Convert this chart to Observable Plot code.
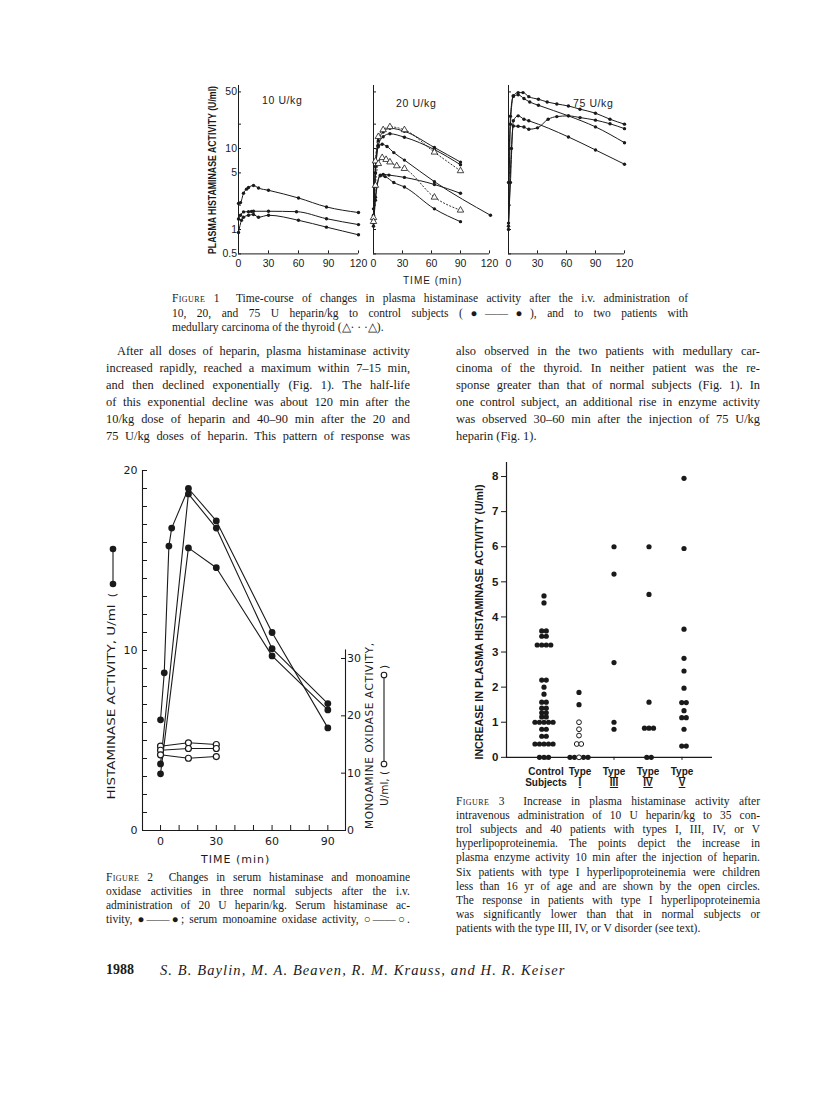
<!DOCTYPE html>
<html><head><meta charset="utf-8">
<script src="https://cdn.jsdelivr.net/npm/d3@7"></script>
<script src="https://cdn.jsdelivr.net/npm/@observablehq/plot@0.6"></script>
<style>
html,body{margin:0;padding:0;background:#fff;}
#page{position:relative;width:816px;height:1099px;overflow:hidden;background:#fff;color:#1a1a1a;font-family:"Liberation Serif","Times New Roman",serif;}
.ln{position:absolute;white-space:nowrap;}
.j{text-align:justify;text-align-last:justify;}
.sc{font-variant:small-caps;letter-spacing:0.4px;}
</style></head><body><div id="page"></div>
<script>
// ---------------- Figure 1 data: [time (min), plasma histaminase (U/ml)] ----------------
// 10 U/kg, control subjects
const ctl10a = [[0,2.1],[2,2.15],[5,2.8],[8,3.15],[10,3.3],[15,3.5],[20,3.25],[30,3.05],[60,2.45],[88,1.9],[120,1.62]];
const ctl10b = [[0,1.35],[2,1.5],[5,1.65],[10,1.66],[13,1.67],[15,1.68],[30,1.68],[58,1.66],[88,1.36],[120,1.15]];
const ctl10c = [[0,0.92],[3,1.3],[5,1.42],[10,1.5],[15,1.53],[20,1.42],[30,1.5],[60,1.3],[88,1.07],[120,0.86]];
// 20 U/kg, control subjects
const ctl20a = [[0,1.8],[2,6],[5,12.5],[10,16],[17,17.8],[32,16.3],[63,10.3],[90,6.8]];
const ctl20b = [[0,1.5],[2,5],[5,11],[10,14],[17,15.2],[32,13.8],[63,9.7],[90,6.3]];
const ctl20c = [[0,1.3],[2,5],[5,10.5],[9,11.3],[14,10.6],[21,8.9],[32,7.2],[63,3.9],[121,1.5]];
const ctl20d = [[0,1.2],[2,2.5],[7,4.7],[10,4.8],[16,4.7],[32,4.4],[63,3.6],[90,2.8]];
const ctl20e = [[0,1.1],[2,2.3],[7,4.6],[12,4.5],[21,3.8],[32,3.35],[63,1.8],[90,1.25]];
// 20 U/kg, medullary carcinoma patients
const pat20a = [[0,1.4],[2,7],[5,14],[10,17],[17,18.5],[32,17],[63,9],[90,5.3]];
const pat20b = [[0,1.25],[2,3.5],[5,6.5],[9,7.7],[13,7.3],[17,6.8],[24,6.1],[32,5.65],[63,2.5],[90,1.73]];
// 75 U/kg, control subjects
const ctl75a = [[0,3.8],[2,25],[5,45],[10,49],[15,49],[21,43.7],[31,40.6],[40,37.6],[50,35.5],[62,33.5],[74,30.6],[90,27.3],[105,23],[120,20]];
const ctl75b = [[0,1.1],[2,20],[5,44],[10,46],[16,41.4],[22,37.5],[31,34.2],[62,25.3],[90,18.5],[120,11.8]];
const ctl75c = [[0,1.0],[3,10],[5,19],[10,18.8],[16,18.4],[21,17.3],[30,18],[41,23],[50,24.8],[62,25.3],[74,24.1],[90,22.4],[105,20.2],[120,17.6]];
const ctl75d = [[0,1.2],[2,3.8],[5,22],[10,25.3],[16,23],[21,22],[62,13.9],[90,9.6],[120,6.4]];
const fig1YTicks = [0.5,1,2,5,10,20,50];
const fig1YLabels = [0.5,1,5,10,50];
const fig1XTicks = [0,30,60,90,120];

// ---------------- Figure 2 data ----------------
// serum histaminase (U/ml), [time, value]
const histA = [[0,6.15],[2,8.76],[4.5,15.8],[6,16.8],[15,19.0],[30,17.2],[60,11.0],[90,5.7]];
const histB = [[0,3.7],[15,18.7],[30,16.8],[60,10.1],[90,7.05]];
const histC = [[0,3.15],[15,15.7],[30,14.6],[60,9.7],[90,6.7]];
// serum monoamine oxidase (U/ml), [time, value]
const maoA = [[0,14.7],[15,15.3],[30,15.0]];
const maoB = [[0,14.0],[15,14.3],[30,14.3]];
const maoC = [[0,13.2],[15,12.6],[30,12.9]];
const fig2XTicks = [0,10,20,30,40,50,60,70,80,90];
const fig2XLabels = [0,30,60,90];
const fig2LeftTicks = d3.range(0,21);
const fig2RightTicks = [0,10,20,30];

// ---------------- Figure 3 data: increase in plasma histaminase (U/ml) ----------------
const groups = ["Control Subjects","Type I","Type III","Type IV","Type V"];
const controlVals = [4.6,4.4,3.6,3.6,3.45,3.45,3.2,3.2,3.2,3.2,2.2,2.2,2.0,1.8,1.57,1.57,1.4,1.4,1.27,1.27,1.15,1.15,1.0,1.0,1.0,1.0,1.0,0.8,0.8,0.6,0.6,0.38,0.38,0.38,0.38,0.38,0,0,0];
const typeIVals = [1.85,1.5,1.0,0.8,0.62,0.38,0.38,0,0,0,0,0];
const typeIOpen = [0,0,1,1,1,1,1,0,0,1,0,0];
const typeIIIVals = [6.0,5.22,2.7,1.0,0.8];
const typeIVVals = [6.0,4.64,1.57,0.83,0.83,0.83,0,0];
const typeVVals = [7.95,5.95,3.65,2.82,2.46,1.97,1.56,1.56,1.33,1.13,1.13,0.8,0.32,0.32];
const fig3YTicks = [0,1,2,3,4,5,6,7,8];

// ---------------- helpers ----------------
const page = document.getElementById("page");
const INK = "#1a1a1a";
function rows(arr, id) { return arr.map(([t, v]) => ({id, t, v})); }
function place(svg, left, top) {
  const d = document.createElement("div");
  d.style.position = "absolute"; d.style.left = left + "px"; d.style.top = top + "px";
  svg.style.display = "block"; svg.style.maxWidth = "none"; svg.style.background = "transparent"; svg.style.overflow = "visible";
  d.appendChild(svg); page.appendChild(d); return d;
}
function line(html, left, cy, width, o = {}) {
  const d = document.createElement("div");
  const lh = o.lh || 16;
  d.className = "ln" + (o.justify ? " j" : "");
  d.style.left = left + "px"; d.style.top = (cy - lh / 2) + "px";
  d.style.lineHeight = lh + "px";
  if (width) d.style.width = width + "px";
  d.style.fontSize = (o.size || 12) + "px";
  if (o.family) d.style.fontFamily = o.family;
  if (o.style) d.style.fontStyle = o.style;
  if (o.weight) d.style.fontWeight = o.weight;
  if (o.ls) d.style.letterSpacing = o.ls + "px";
  if (o.indent) d.style.paddingLeft = o.indent + "px", d.style.boxSizing = "border-box";
  d.innerHTML = html; page.appendChild(d); return d;
}

// ---------------- Figure 1 ----------------
const F1 = {top: 84.6, inner: 168.4, mT: 4, mB: 22, mL: 30, mR: 6};
function fig1Panel(controls, patients, axisX, innerW, showY) {
  const c = controls.flatMap((a, i) => rows(a, "c" + i));
  const p = patients.flatMap((a, i) => rows(a, "p" + i));
  const svg = Plot.plot({
    width: F1.mL + innerW + F1.mR, height: F1.mT + F1.inner + F1.mB,
    marginLeft: F1.mL, marginRight: F1.mR, marginTop: F1.mT, marginBottom: F1.mB,
    x: {domain: [0, 120]}, y: {type: "log", domain: [0.5, 60]},
    style: {fontFamily: "Liberation Sans, sans-serif", fontSize: "10.5px", color: INK},
    marks: [
      Plot.ruleX([0], {stroke: INK, strokeWidth: 1}),
      Plot.ruleY([0.5], {stroke: INK, strokeWidth: 1}),
      Plot.axisY({ticks: fig1YTicks, tickSize: -3, tickPadding: 4.5, label: null,
        tickFormat: d => showY && fig1YLabels.includes(d) ? String(d) : ""}),
      Plot.axisX({ticks: fig1XTicks, tickSize: -3, tickPadding: 9, label: null, tickFormat: d => String(d)}),
      Plot.line(p, {x: "t", y: "v", z: "id", curve: "monotone-x", stroke: INK, strokeWidth: 0.9, strokeDasharray: "1.2,2.2"}),
      Plot.line(c, {x: "t", y: "v", z: "id", curve: "monotone-x", stroke: INK, strokeWidth: 1}),
      Plot.dot(c, {x: "t", y: "v", r: 1.7, fill: INK}),
      Plot.dot(p, {x: "t", y: "v", r: 2.4, symbol: "triangle", fill: "white", stroke: INK, strokeWidth: 0.8})
    ]
  });
  place(svg, axisX - F1.mL, F1.top - F1.mT);
}
fig1Panel([ctl10a, ctl10b, ctl10c], [], 237.5, 120, true);
fig1Panel([ctl20a, ctl20b, ctl20c, ctl20d, ctl20e], [pat20a, pat20b], 372.5, 116, false);
fig1Panel([ctl75a, ctl75b, ctl75c, ctl75d], [], 508, 116, false);

// ---------------- Figure 2 ----------------
const F2 = {left: 142, top: 470, w: 203, h: 360, mL: 26, mR: 26, mT: 6, mB: 24};
const xDom2 = [-9.7, 99.5];
const hRows = [...rows(histA, "A"), ...rows(histB, "B"), ...rows(histC, "C")];
const mRows = [...rows(maoA, "A"), ...rows(maoB, "B"), ...rows(maoC, "C")];
const fig2Left = Plot.plot({
  width: F2.mL + F2.w + F2.mR, height: F2.mT + F2.h + F2.mB,
  marginLeft: F2.mL, marginRight: F2.mR, marginTop: F2.mT, marginBottom: F2.mB,
  x: {domain: xDom2}, y: {domain: [0, 20]},
  style: {fontFamily: "DejaVu Sans, sans-serif", fontSize: "11px", color: INK},
  marks: [
    Plot.ruleX([xDom2[0]], {stroke: INK, strokeWidth: 1.1}),
    Plot.ruleY([0], {stroke: INK, strokeWidth: 1.1}),
    Plot.axisY({ticks: fig2LeftTicks, tickSize: -5, tickPadding: 10, label: null,
      tickFormat: d => d % 10 === 0 ? String(d) : ""}),
    Plot.axisX({ticks: fig2XTicks, tickSize: -5, tickPadding: 12, label: null,
      tickFormat: d => fig2XLabels.includes(d) ? String(d) : ""}),
    Plot.line(hRows, {x: "t", y: "v", z: "id", stroke: INK, strokeWidth: 1.1}),
    Plot.dot(hRows, {x: "t", y: "v", r: 3.4, fill: INK})
  ]
});
place(fig2Left, F2.left - F2.mL, F2.top - F2.mT);
// right scale: 0-30 occupies the lower 172 px of the 360 px frame
const maoMax = 30 * F2.h / 172;
const fig2Right = Plot.plot({
  width: F2.mL + F2.w + F2.mR, height: F2.mT + F2.h + F2.mB,
  marginLeft: F2.mL, marginRight: F2.mR, marginTop: F2.mT, marginBottom: F2.mB,
  x: {domain: xDom2, axis: null}, y: {domain: [0, maoMax]},
  style: {fontFamily: "DejaVu Sans, sans-serif", fontSize: "11px", color: INK},
  marks: [
    Plot.ruleX([xDom2[1]], {y1: 0, y2: 31.5, stroke: INK, strokeWidth: 1.1}),
    Plot.axisY({anchor: "right", ticks: fig2RightTicks, tickSize: -5, tickPadding: 6.5, label: null}),
    Plot.line(mRows, {x: "t", y: "v", z: "id", stroke: INK, strokeWidth: 1.1}),
    Plot.dot(mRows, {x: "t", y: "v", r: 3, fill: "white", stroke: INK, strokeWidth: 1.2})
  ]
});
place(fig2Right, F2.left - F2.mL, F2.top - F2.mT);

// ---------------- Figure 3 ----------------
function stackRows(group, vals, openFlags) {
  const r = vals.map((v, i) => ({group, value: v, open: openFlags ? !!openFlags[i] : false}));
  for (const [, arr] of d3.group(r, d => d.value)) arr.forEach((d, i) => d.off = i - (arr.length - 1) / 2);
  return r;
}
const f3Rows = [
  ...stackRows(groups[0], controlVals),
  ...stackRows(groups[1], typeIVals, typeIOpen),
  ...stackRows(groups[2], typeIIIVals),
  ...stackRows(groups[3], typeIVVals),
  ...stackRows(groups[4], typeVVals)
];
const F3 = {left: 506, bottom: 757.3, w: 206, mL: 32, mR: 6, mT: 4, mB: 34, insL: 18, insR: 10};
const f3Top = F3.bottom - 8.4 * 35.1;
const f3H = F3.bottom - f3Top;
const fig3Axes = Plot.plot({
  width: F3.mL + F3.w + F3.mR, height: F3.mT + f3H + F3.mB,
  marginLeft: F3.mL, marginRight: F3.mR, marginTop: F3.mT, marginBottom: F3.mB,
  x: {type: "band", domain: groups, insetLeft: F3.insL, insetRight: F3.insR},
  y: {domain: [0, 8.4]},
  style: {fontFamily: "Liberation Sans, sans-serif", fontSize: "10px", fontWeight: "bold", color: INK},
  marks: [
    Plot.frame({anchor: "left", stroke: INK, strokeWidth: 1.2}),
    Plot.ruleY([0], {stroke: INK, strokeWidth: 1.2}),
    Plot.axisY({ticks: fig3YTicks, tickSize: 5, tickPadding: 3, label: null, fontWeight: "bold", fontSize: 11.5}),
    Plot.axisX({tickSize: 3, tickPadding: 6, label: null, fontWeight: "bold", fontSize: 10, lineHeight: 1.15,
      tickFormat: d => d.replace(" ", "\n")})
  ]
});
place(fig3Axes, F3.left - F3.mL, f3Top - F3.mT);
const fig3Dots = Plot.plot({
  width: F3.mL + F3.w + F3.mR, height: F3.mT + f3H + F3.mB,
  marginLeft: F3.mL + F3.insL, marginRight: F3.mR + F3.insR, marginTop: F3.mT, marginBottom: F3.mB,
  fx: {domain: groups, padding: 0, axis: null},
  x: {domain: [-3.87, 3.87], axis: null}, y: {domain: [0, 8.4], axis: null},
  marks: [
    Plot.dot(f3Rows.filter(d => !d.open), {fx: "group", x: "off", y: "value", r: 2.6, fill: INK}),
    Plot.dot(f3Rows.filter(d => d.open), {fx: "group", x: "off", y: "value", r: 2.4, fill: "white", stroke: INK, strokeWidth: 1})
  ]
});
place(fig3Dots, F3.left - F3.mL, f3Top - F3.mT);
// roman numerals drawn with bars as in the print
d3.select(fig3Axes).selectAll("text tspan").filter(function () { return /^[IV]+$/.test(this.textContent); })
  .style("text-decoration", "underline overline");

// ---------------- overlay labels ----------------
const ov = d3.select(page).append("svg").attr("width", 816).attr("height", 1099)
  .style("position", "absolute").style("left", 0).style("top", 0).style("pointer-events", "none");
function vlabel(x, yc, len, txt, size, weight, family, adjust, anchor) {
  const t = ov.append("text").attr("transform", `translate(${x},${yc}) rotate(-90)`)
    .attr("text-anchor", anchor || "middle").attr("dominant-baseline", "central")
    .style("font-family", family || "Liberation Sans, sans-serif").style("font-size", size + "px")
    .style("font-weight", weight || "normal").attr("fill", INK).text(txt);
  if (len) t.attr("textLength", len).attr("lengthAdjust", adjust || "spacingAndGlyphs");
}
vlabel(212, 170, 168, "PLASMA HISTAMINASE ACTIVITY (U/ml)", 10, "bold");
vlabel(111, 702, 195, "HISTAMINASE ACTIVITY, U/ml", 11, "normal", "DejaVu Sans, sans-serif");
vlabel(112, 595, null, "(", 11, "normal", "DejaVu Sans, sans-serif");
ov.append("line").attr("x1", 113).attr("x2", 113).attr("y1", 549).attr("y2", 584).attr("stroke", INK).attr("stroke-width", 1.1);
ov.append("circle").attr("cx", 113).attr("cy", 549).attr("r", 3.3).attr("fill", INK);
ov.append("circle").attr("cx", 113).attr("cy", 584).attr("r", 3.3).attr("fill", INK);
vlabel(369, 736, 186, "MONOAMINE OXIDASE ACTIVITY,", 10.5, "normal", "DejaVu Sans, sans-serif", "spacing");
// second line: "U/ml, (o——o)" with the open-circle legend symbol
vlabel(384, 806, null, "U/ml,  (", 10.5, "normal", "DejaVu Sans, sans-serif", null, "start");
ov.append("line").attr("x1", 384).attr("x2", 384).attr("y1", 763).attr("y2", 676).attr("stroke", INK).attr("stroke-width", 1.1);
ov.append("circle").attr("cx", 384).attr("cy", 764).attr("r", 2.8).attr("fill", "white").attr("stroke", INK).attr("stroke-width", 1.1);
ov.append("circle").attr("cx", 384).attr("cy", 675).attr("r", 2.8).attr("fill", "white").attr("stroke", INK).attr("stroke-width", 1.1);
vlabel(384, 669, null, ")", 10.5, "normal", "DejaVu Sans, sans-serif", null, "start");
vlabel(479, 622, 275, "INCREASE IN PLASMA HISTAMINASE ACTIVITY (U/ml)", 10.5, "bold");

// figure 1 small labels
line("10 U/kg", 262, 100, null, {size: 10.5, family: "Liberation Sans, sans-serif", ls: 0.6});
line("20 U/kg", 396, 103, null, {size: 10.5, family: "Liberation Sans, sans-serif", ls: 0.6});
line("75 U/kg", 573, 103, null, {size: 10.5, family: "Liberation Sans, sans-serif", ls: 0.6});
line("TIME (min)", 403, 281, null, {size: 10, family: "Liberation Sans, sans-serif", ls: 1});
line("TIME (min)", 201, 860, null, {size: 11, family: "DejaVu Sans, sans-serif", ls: 1});

// ---------------- captions & body text ----------------
const cap1 = [
  '<span class="sc">Figure</span> 1&nbsp; Time-course of changes in plasma histaminase activity after the i.v. administration of',
  '10, 20, and 75 U heparin/kg to control subjects (\u25CF\u2014\u2014\u25CF), and to two patients with',
  'medullary carcinoma of the thyroid (\u25B3\u00B7 \u00B7 \u00B7\u25B3).'
];
cap1.forEach((t, i) => line(t, 172, 298 + i * 14.5, 516, {size: 11.5, lh: 14, justify: i < 2}));

const bodyL = [
  'After all doses of heparin, plasma histaminase activity',
  'increased rapidly, reached a maximum within 7\u201315 min,',
  'and then declined exponentially (Fig. 1). The half-life',
  'of this exponential decline was about 120 min after the',
  '10/kg dose of heparin and 40\u201390 min after the 20 and',
  '75 U/kg doses of heparin. This pattern of response was'
];
const bodyR = [
  'also observed in the two patients with medullary car-',
  'cinoma of the thyroid. In neither patient was the re-',
  'sponse greater than that of normal subjects (Fig. 1). In',
  'one control subject, an additional rise in enzyme activity',
  'was observed 30\u201360 min after the injection of 75 U/kg',
  'heparin (Fig. 1).'
];
bodyL.forEach((t, i) => line(t, 106, 351 + i * 17, 304, {size: 12.4, lh: 17, justify: true, indent: i === 0 ? 11 : 0}));
bodyR.forEach((t, i) => line(t, 456, 351 + i * 17, 304, {size: 12.4, lh: 17, justify: i < 5}));

const cap2 = [
  '<span class="sc">Figure</span> 2&nbsp; Changes in serum histaminase and monoamine',
  'oxidase activities in three normal subjects after the i.v.',
  'administration of 20 U heparin/kg. Serum histaminase ac-',
  'tivity, \u25CF\u2014\u2014\u25CF; serum monoamine oxidase activity, \u25CB\u2014\u2014\u25CB.'
];
cap2.forEach((t, i) => line(t, 106, 877 + i * 14, 304, {size: 11.5, lh: 14, justify: true}));

const cap3 = [
  '<span class="sc">Figure</span> 3&nbsp; Increase in plasma histaminase activity after',
  'intravenous administration of 10 U heparin/kg to 35 con-',
  'trol subjects and 40 patients with types I, III, IV, or V',
  'hyperlipoproteinemia. The points depict the increase in',
  'plasma enzyme activity 10 min after the injection of heparin.',
  'Six patients with type I hyperlipoproteinemia were children',
  'less than 16 yr of age and are shown by the open circles.',
  'The response in patients with type I hyperlipoproteinemia',
  'was significantly lower than that in normal subjects or',
  'patients with the type III, IV, or V disorder (see text).'
];
cap3.forEach((t, i) => line(t, 456, 801 + i * 14.1, 304, {size: 11.5, lh: 14, justify: i < 9}));

line('1988', 106, 970, null, {size: 14, weight: "bold", lh: 18});
line('S. B. Baylin, M. A. Beaven, R. M. Krauss, and H. R. Keiser', 160, 970, null, {size: 14.5, style: "italic", lh: 18, ls: 1.1});
</script></body></html>
